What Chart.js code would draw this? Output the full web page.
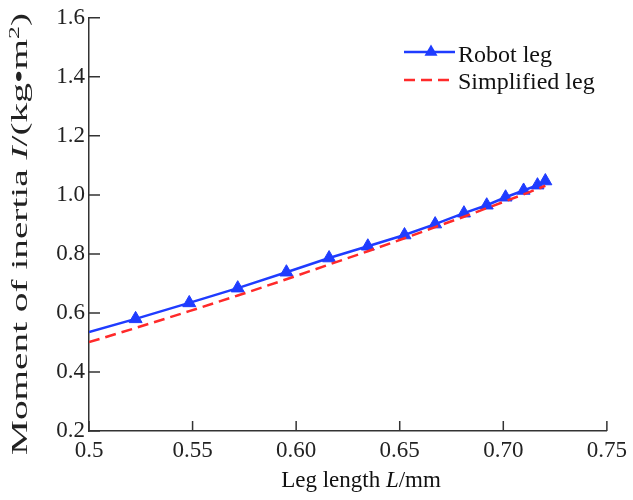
<!DOCTYPE html>
<html>
<head>
<meta charset="utf-8">
<script src="https://cdn.jsdelivr.net/npm/chart.js@4.4.1/dist/chart.umd.min.js"></script>
<style>
  html, body { margin: 0; padding: 0; background: #fff; }
</style>
</head>
<body>
<canvas id="chart" width="633" height="500"></canvas>
<script>
// values
const legLength = [0.5, 0.5225, 0.5484, 0.5718, 0.5953, 0.6159, 0.6346, 0.6523, 0.6671, 0.6810, 0.6920, 0.7011, 0.7098, 0.7165, 0.7203];
const robotLeg = [0.535, 0.580, 0.634, 0.684, 0.738, 0.786, 0.826, 0.864, 0.901, 0.938, 0.965, 0.992, 1.015, 1.033, 1.047];
const simplifiedLeg = [0.501, 0.549, 0.606, 0.659, 0.714, 0.764, 0.809, 0.853, 0.891, 0.926, 0.955, 0.979, 1.002, 1.020, 1.031];
const xTickLabels = ['0.5', '0.55', '0.60', '0.65', '0.70', '0.75'];
const yTickLabels = ['0.2', '0.4', '0.6', '0.8', '1.0', '1.2', '1.4', '1.6'];

const BLUE = '#1f3cff';
const RED = '#ff2a2a';
const AXIS = '#333';
const SERIF = 'Liberation Serif';

Chart.defaults.font.family = SERIF;
Chart.defaults.color = '#222';

function pts(ys) {
  return legLength.map((x, i) => ({ x: x, y: ys[i] }));
}

// inward tick marks, like the original plot
const inwardTicks = {
  id: 'inwardTicks',
  afterDatasetsDraw(chart) {
    const { ctx, chartArea, scales: { x, y } } = chart;
    ctx.save();
    ctx.strokeStyle = AXIS;
    ctx.lineWidth = 1.5;
    ctx.beginPath();
    x.ticks.forEach(t => {
      const px = x.getPixelForValue(t.value);
      ctx.moveTo(px, chartArea.bottom);
      ctx.lineTo(px, chartArea.bottom - 10);
    });
    y.ticks.forEach(t => {
      const py = y.getPixelForValue(t.value);
      ctx.moveTo(chartArea.left, py);
      ctx.lineTo(chartArea.left + 11, py);
    });
    ctx.stroke();
    ctx.restore();
  }
};

// text in pieces: [text, font, raise]
function runsWidth(ctx, runs) {
  let w = 0;
  runs.forEach(r => { ctx.font = r[1]; w += ctx.measureText(r[0]).width; });
  return w;
}
function drawRuns(ctx, runs, x, y) {
  runs.forEach(r => {
    ctx.font = r[1];
    ctx.fillText(r[0], x, y - (r[2] || 0));
    x += ctx.measureText(r[0]).width;
  });
}

const titlesAndLegend = {
  id: 'titlesAndLegend',
  afterDraw(chart) {
    const ctx = chart.ctx;
    const f = '23px "' + SERIF + '"';
    const fi = 'italic 23px "' + SERIF + '"';
    ctx.save();
    ctx.fillStyle = '#111';
    ctx.textBaseline = 'alphabetic';
    ctx.textAlign = 'left';

    // x title
    const xRuns = [['Leg length ', f], ['L', fi], ['/mm', f]];
    const xw = runsWidth(ctx, xRuns);
    drawRuns(ctx, xRuns, 361 - xw / 2, 487);

    // y title (stretched along its length in the original)
    const yRuns = [['Moment of inertia ', f], ['I', fi], ['/(kg\u2022m', f], ['2', '15px "' + SERIF + '"', 8], [')', f]];
    const yw = runsWidth(ctx, yRuns);
    ctx.save();
    ctx.translate(27, 234);
    ctx.rotate(-Math.PI / 2);
    ctx.scale(442 / yw, 1);
    ctx.fillStyle = '#222';
    drawRuns(ctx, yRuns, -yw / 2, 0);
    ctx.restore();

    // legend
    ctx.lineWidth = 2.5;
    ctx.strokeStyle = BLUE;
    ctx.beginPath();
    ctx.moveTo(404, 52);
    ctx.lineTo(455, 52);
    ctx.stroke();
    ctx.fillStyle = BLUE;
    ctx.beginPath();
    ctx.moveTo(431, 44.5);
    ctx.lineTo(437.5, 55.8);
    ctx.lineTo(424.5, 55.8);
    ctx.closePath();
    ctx.fill();

    ctx.strokeStyle = RED;
    ctx.setLineDash([11, 6]);
    ctx.beginPath();
    ctx.moveTo(404, 80);
    ctx.lineTo(455, 80);
    ctx.stroke();
    ctx.setLineDash([]);

    ctx.fillStyle = '#111';
    ctx.font = '24px "' + SERIF + '"';
    ctx.fillText('Robot leg', 458, 62);
    ctx.fillText('Simplified leg', 458, 89);
    ctx.restore();
  }
};

new Chart(document.getElementById('chart').getContext('2d'), {
  type: 'line',
  data: {
    datasets: [
      {
        label: 'Robot leg',
        data: pts(robotLeg),
        borderColor: BLUE,
        backgroundColor: BLUE,
        borderWidth: 2.5,
        pointStyle: 'triangle',
        pointRadius: legLength.map((v, i) => i === 0 ? 0 : 7.5),
        pointBorderWidth: 1,
        pointBackgroundColor: BLUE,
        pointBorderColor: BLUE,
        tension: 0,
        order: 1
      },
      {
        label: 'Simplified leg',
        data: pts(simplifiedLeg),
        borderColor: RED,
        borderWidth: 2.5,
        borderDash: [11, 6],
        pointRadius: 0,
        tension: 0,
        order: 0
      }
    ]
  },
  options: {
    responsive: false,
    animation: false,
    layout: { padding: { left: 0, top: 17, right: 23, bottom: 0 } },
    plugins: {
      legend: { display: false },
      tooltip: { enabled: false }
    },
    scales: {
      x: {
        type: 'linear',
        min: 0.5,
        max: 0.75,
        grid: { display: false, drawTicks: false },
        border: { display: true, color: AXIS, width: 1.5 },
        ticks: {
          stepSize: 0.05,
          autoSkip: false,
          maxRotation: 0,
          padding: 6,
          font: { family: SERIF, size: 23 },
          color: '#222',
          callback: (v, i) => xTickLabels[i]
        },
        afterFit: s => { s.height = 69; }
      },
      y: {
        min: 0.2,
        max: 1.6,
        grid: { display: false, drawTicks: false },
        border: { display: true, color: AXIS, width: 1.5 },
        ticks: {
          stepSize: 0.2,
          padding: 4,
          font: { family: SERIF, size: 23 },
          color: '#222',
          callback: (v, i) => yTickLabels[i]
        },
        afterFit: s => { s.width = 89; }
      }
    }
  },
  plugins: [inwardTicks, titlesAndLegend]
});
</script>
</body>
</html>
